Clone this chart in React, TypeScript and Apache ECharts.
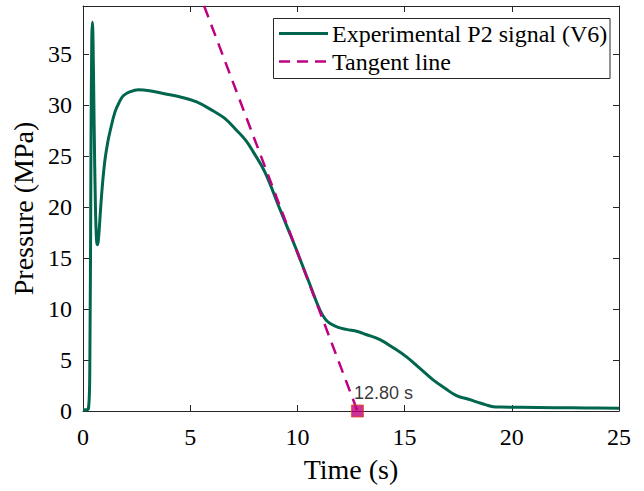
import React, { useEffect, useRef } from "react";
import * as echarts from "echarts";

const timeS = [0, 0.25, 0.32, 0.37, 0.41, 0.44, 0.47, 0.52, 0.58, 0.63, 0.67, 0.72, 0.82, 0.92, 1.03, 1.15, 1.26, 1.49, 1.7, 1.88, 2.2, 2.58, 3.1, 3.8, 4.5, 5.3, 6.08, 6.6, 7.17, 7.6, 7.94, 8.49, 9.18, 9.88, 10.12, 10.6, 11.05, 11.3, 11.51, 11.9, 12.29, 12.8, 13.2, 13.85, 14.47, 15.09, 15.7, 16.33, 16.9, 17.42, 17.9, 18.35, 18.8, 19.13, 19.5, 20.4, 22, 23.5, 25];
const pressureMPa = [0.1, 0.2, 5, 25, 36.5, 38.1, 36, 28, 20, 16.8, 16.3, 16.8, 19.8, 22.5, 24.7, 26.3, 27.4, 29.3, 30.3, 30.9, 31.3, 31.5, 31.4, 31.1, 30.8, 30.3, 29.4, 28.7, 27.5, 26.5, 25.4, 23.4, 19.8, 16.2, 14.9, 12.3, 9.9, 9.0, 8.6, 8.2, 8.0, 7.8, 7.5, 7.0, 6.2, 5.3, 4.2, 3.05, 2.2, 1.5, 1.2, 0.9, 0.6, 0.42, 0.38, 0.36, 0.32, 0.3, 0.28];
const tangentT = [5.65, 12.8];
const tangentP = [39.7, 0];
const crossingT = 12.8;
const crossingLabel = "12.80 s";
const legendNames = ["Experimental P2 signal (V6)", "Tangent line"];
const xTicks = [0, 5, 10, 15, 20, 25];
const yTicks = [0, 5, 10, 15, 20, 25, 30, 35];
const Y_MAX = 39.7;

const GREEN = "#00664D";
const MAGENTA = "#BF0080";
const AX = "#262626";
const SERIF = "'Liberation Serif', 'Times New Roman', serif";
const DASH = [12, 8];

export default function App() {
  const ref = useRef<HTMLDivElement>(null);
  useEffect(() => {
    if (!ref.current) return;
    const chart = echarts.init(ref.current, undefined, { renderer: "svg" });
    const axisCommon = {
      axisLine: { show: true, onZero: false, lineStyle: { color: AX, width: 1 } },
      axisTick: { show: true, inside: true, length: 6, lineStyle: { color: AX, width: 1 } },
      splitLine: { show: false },
    };
    const legendX = 273.5;
    const legendY = 18.5;
    const rowGap = 28;
    const legendGraphic = [
      {
        type: "rect",
        shape: { x: legendX, y: legendY, width: 336.5, height: 60 },
        style: { fill: "#fff", stroke: AX, lineWidth: 1 },
        z: 10,
      },
      ...legendNames.map((name, i) => ({
        type: "group",
        z: 11,
        children: [
          {
            type: "line",
            shape: { x1: 279, y1: 33.5 + i * rowGap, x2: 328, y2: 33.5 + i * rowGap },
            style: {
              stroke: i === 0 ? GREEN : MAGENTA,
              lineWidth: i === 0 ? 3 : 2.5,
              lineDash: i === 0 ? null : [11, 7],
            },
            z: 11,
          },
          {
            type: "text",
            x: 332,
            y: 33.5 + i * rowGap,
            style: {
              text: name,
              fontFamily: SERIF,
              fontSize: 24,
              fill: "#000",
              verticalAlign: "middle",
              align: "left",
            },
            z: 11,
          },
        ],
      })),
    ];
    chart.setOption({
      animation: false,
      backgroundColor: "#fff",
      grid: { left: 83, right: 25, top: 6, bottom: 80, containLabel: false },
      graphic: legendGraphic,
      xAxis: [
        {
          type: "value",
          min: 0,
          max: 25,
          interval: 5,
          position: "bottom",
          name: "Time (s)",
          nameLocation: "middle",
          nameGap: 58,
          nameTextStyle: { fontFamily: SERIF, fontSize: 28, color: "#000", verticalAlign: "middle" },
          axisLabel: {
            fontFamily: SERIF,
            fontSize: 24,
            color: "#000",
            margin: 14,
            formatter: (v: number) => (xTicks.includes(v) ? String(v) : ""),
          },
          ...axisCommon,
        },
        {
          type: "value",
          min: 0,
          max: 25,
          interval: 5,
          position: "top",
          axisLabel: { show: false },
          ...axisCommon,
        },
      ],
      yAxis: [
        {
          type: "value",
          min: 0,
          max: Y_MAX,
          interval: 5,
          position: "left",
          name: "Pressure (MPa)",
          nameLocation: "middle",
          nameGap: 52,
          nameTextStyle: { fontFamily: SERIF, fontSize: 28, color: "#000", verticalAlign: "middle" },
          axisLabel: {
            fontFamily: SERIF,
            fontSize: 24,
            color: "#000",
            margin: 11,
            showMaxLabel: false,
            formatter: (v: number) => (yTicks.includes(v) ? String(v) : ""),
          },
          ...axisCommon,
        },
        {
          type: "value",
          min: 0,
          max: Y_MAX,
          interval: 5,
          position: "right",
          axisLabel: { show: false },
          ...axisCommon,
        },
      ],
      series: [
        {
          name: legendNames[0],
          type: "line",
          data: timeS.map((t, i) => [t, pressureMPa[i]]),
          symbol: "none",
          smooth: 0.4,
          lineStyle: { color: GREEN, width: 3 },
          itemStyle: { color: GREEN },
          z: 2,
        },
        {
          name: legendNames[1],
          type: "line",
          data: tangentT.map((t, i) => [t, tangentP[i]]),
          symbol: "none",
          lineStyle: { color: MAGENTA, width: 2.5, type: DASH },
          itemStyle: { color: MAGENTA },
          z: 3,
        },
        {
          name: "crossing",
          type: "scatter",
          data: [[crossingT, 0]],
          symbol: "rect",
          symbolSize: 12,
          clip: false,
          itemStyle: { color: MAGENTA, borderColor: "#D95319", borderWidth: 1 },
          label: {
            show: true,
            formatter: crossingLabel,
            position: "top",
            distance: 3,
            offset: [26, 0],
            fontFamily: "'Liberation Sans', Arial, sans-serif",
            fontSize: 18,
            color: "#000",
          },
          z: 4,
        },
      ],
    });
    return () => chart.dispose();
  }, []);
  return (
    <div
      ref={ref}
      style={{ position: "fixed", left: 0, top: 0, width: 644, height: 491, background: "#fff" }}
    />
  );
}
